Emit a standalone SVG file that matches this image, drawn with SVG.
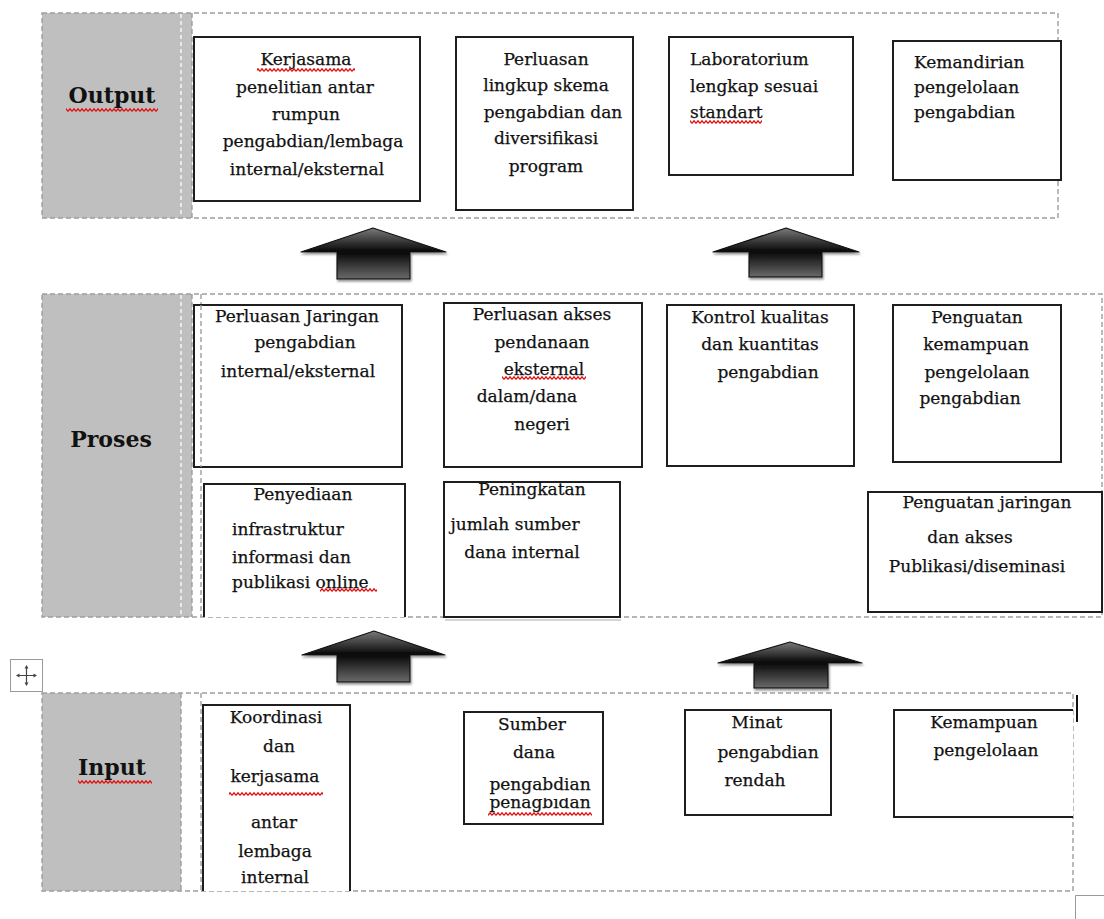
<svg xmlns="http://www.w3.org/2000/svg" width="1104" height="919" viewBox="0 0 1104 919">
<defs>
<style>
.box{fill:#fff;stroke:#1e1e1e;stroke-width:2}
.open{fill:#fff;stroke:#1e1e1e;stroke-width:2}
.dash{fill:none;stroke:#9e9e9e;stroke-width:1.4;stroke-dasharray:5 3}
.wdash{fill:none;stroke:#fff;stroke-width:1.3;stroke-dasharray:4 3}
.gray{fill:#bfbfbf}
.t{font-family:"DejaVu Serif","Liberation Serif",serif;font-size:17px;fill:#111;stroke:#111;stroke-width:0.25}
.c{text-anchor:middle}
.lbl{font-family:"DejaVu Serif","Liberation Serif",serif;font-weight:bold;font-size:22px;text-anchor:middle;fill:#111}
.sq{fill:url(#squiggle)}
.head{fill:url(#headGrad);stroke:#111;stroke-width:1.2;stroke-linejoin:round}
.shaft{fill:url(#shaftGrad);stroke:#111;stroke-width:1.2}
</style>
<pattern id="squiggle" x="0" y="0" width="4" height="4" patternUnits="userSpaceOnUse">
<path d="M0,3.4 L2,0.8 L4,3.4" fill="none" stroke="#e01010" stroke-width="1.3"/>
</pattern>
<linearGradient id="headGrad" x1="0" y1="0" x2="0" y2="1">
<stop offset="0" stop-color="#7a7a7a"/>
<stop offset="1" stop-color="#050505"/>
</linearGradient>
<linearGradient id="shaftGrad" x1="0" y1="0" x2="0" y2="1">
<stop offset="0" stop-color="#080808"/>
<stop offset="1" stop-color="#6a6a6a"/>
</linearGradient>
<filter id="shadow" x="-10%" y="-10%" width="130%" height="140%">
<feDropShadow dx="1" dy="2" stdDeviation="1" flood-color="#777" flood-opacity="0.8"/>
</filter>
<clipPath id="clipPen"><rect x="460" y="798" width="150" height="30"/></clipPath>
</defs>

<g id="frames">
<rect class="gray" x="42" y="13" width="150" height="205"/>
<line class="wdash" x1="181" y1="14" x2="181" y2="217"/>
<rect class="dash" x="42" y="13" width="1016" height="205"/>
<line class="dash" x1="192" y1="13" x2="192" y2="218"/>
<rect class="gray" x="42" y="294" width="150" height="323"/>
<line class="wdash" x1="181" y1="295" x2="181" y2="616"/>
<rect class="dash" x="42" y="294" width="1060" height="323"/>
<line class="dash" x1="192" y1="294" x2="192" y2="617"/>
<line class="dash" x1="201" y1="294" x2="201" y2="617"/>
<rect class="gray" x="42" y="693" width="139" height="198"/>
<rect class="dash" x="42" y="693" width="1031" height="198"/>
<line class="dash" x1="181" y1="693" x2="181" y2="891"/>
<line class="dash" x1="201" y1="693" x2="201" y2="891"/>
</g>

<g id="label-output">
<text class="lbl" x="112" y="103">Output</text>
<rect class="sq" x="66" y="108" width="92" height="4"/>
</g>
<g id="label-proses">
<text class="lbl" x="111" y="447">Proses</text>
</g>
<g id="label-input">
<text class="lbl" x="112" y="775">Input</text>
<rect class="sq" x="78" y="780" width="74" height="4"/>
</g>

<g id="out-1">
<rect class="box" x="194" y="37" width="226" height="164"/>
<text class="t c" x="306" y="65">Kerjasama</text>
<rect class="sq" x="257" y="68" width="98" height="4"/>
<text class="t c" x="305" y="93">penelitian antar</text>
<text class="t c" x="306" y="120">rumpun</text>
<text class="t c" x="313" y="147">pengabdian/lembaga</text>
<text class="t c" x="307" y="175">internal/eksternal</text>
</g>
<g id="out-2">
<rect class="box" x="456" y="37" width="177" height="173"/>
<text class="t c" x="546" y="65">Perluasan</text>
<text class="t c" x="546" y="91">lingkup skema</text>
<text class="t c" x="553" y="118">pengabdian dan</text>
<text class="t c" x="546" y="144">diversifikasi</text>
<text class="t c" x="546" y="172">program</text>
</g>
<g id="out-3">
<rect class="box" x="669" y="37" width="184" height="138"/>
<text class="t" x="690" y="65">Laboratorium</text>
<text class="t" x="690" y="92">lengkap sesuai</text>
<text class="t" x="690" y="118">standart</text>
<rect class="sq" x="690" y="120" width="72" height="4"/>
</g>
<g id="out-4">
<rect class="box" x="893" y="41" width="168" height="139"/>
<text class="t" x="914" y="68">Kemandirian</text>
<text class="t" x="914" y="93">pengelolaan</text>
<text class="t" x="914" y="118">pengabdian</text>
</g>

<g id="pro-1">
<rect class="box" x="194" y="305" width="208" height="162"/>
<line class="dash" x1="201" y1="305" x2="201" y2="467"/>
<text class="t c" x="297" y="322">Perluasan Jaringan</text>
<text class="t c" x="305" y="348">pengabdian</text>
<text class="t c" x="298" y="377">internal/eksternal</text>
</g>
<g id="pro-2">
<rect class="box" x="444" y="303" width="198" height="164"/>
<text class="t c" x="542" y="320">Perluasan akses</text>
<text class="t c" x="542" y="348">pendanaan</text>
<text class="t c" x="544" y="375">eksternal</text>
<rect class="sq" x="502" y="376" width="84" height="4"/>
<text class="t c" x="527" y="402">dalam/dana</text>
<text class="t c" x="542" y="430">negeri</text>
</g>
<g id="pro-3">
<rect class="box" x="667" y="305" width="187" height="161"/>
<text class="t c" x="760" y="323">Kontrol kualitas</text>
<text class="t c" x="760" y="350">dan kuantitas</text>
<text class="t c" x="768" y="378">pengabdian</text>
</g>
<g id="pro-4">
<rect class="box" x="893" y="305" width="168" height="157"/>
<text class="t c" x="977" y="323">Penguatan</text>
<text class="t c" x="976" y="350">kemampuan</text>
<text class="t c" x="977" y="378">pengelolaan</text>
<text class="t c" x="970" y="404">pengabdian</text>
</g>
<g id="pro-5">
<path class="open" d="M204,617 V484 H405 V617"/>
<text class="t c" x="303" y="500">Penyediaan</text>
<text class="t" x="232" y="535">infrastruktur</text>
<text class="t" x="232" y="563">informasi dan</text>
<text class="t" x="232" y="588">publikasi online</text>
<rect class="sq" x="320" y="588" width="57" height="4"/>
</g>
<g id="pro-6">
<rect class="box" x="444" y="482" width="176" height="135"/>
<line x1="445" y1="620" x2="621" y2="620" stroke="#aaa" stroke-width="1"/>
<text class="t c" x="532" y="495">Peningkatan</text>
<text class="t c" x="515" y="530">jumlah sumber</text>
<text class="t c" x="522" y="558">dana internal</text>
</g>
<g id="pro-7">
<rect class="box" x="868" y="492" width="234" height="120"/>
<text class="t c" x="987" y="508">Penguatan jaringan</text>
<text class="t c" x="970" y="543">dan akses</text>
<text class="t c" x="977" y="572">Publikasi/diseminasi</text>
</g>

<g id="in-1">
<path class="open" d="M203,891 V705 H350 V891"/>
<text class="t c" x="276" y="723">Koordinasi</text>
<text class="t c" x="279" y="752">dan</text>
<text class="t c" x="275" y="782">kerjasama</text>
<rect class="sq" x="229" y="792" width="94" height="4"/>
<text class="t c" x="274" y="828">antar</text>
<text class="t c" x="275" y="857">lembaga</text>
<text class="t c" x="275" y="883">internal</text>
</g>
<g id="in-2">
<rect class="box" x="464" y="712" width="139" height="112"/>
<text class="t c" x="532" y="730">Sumber</text>
<text class="t c" x="534" y="758">dana</text>
<text class="t c" x="540" y="790">pengabdian</text>
<text class="t c" x="540" y="808" clip-path="url(#clipPen)">penagbidan</text>
<rect class="sq" x="488" y="812" width="104" height="4"/>
</g>
<g id="in-3">
<rect class="box" x="685" y="710" width="146" height="105"/>
<text class="t c" x="757" y="728">Minat</text>
<text class="t c" x="768" y="758">pengabdian</text>
<text class="t c" x="755" y="786">rendah</text>
</g>
<g id="in-4">
<path class="open" d="M1073,710 H894 V817 H1073"/>
<text class="t c" x="984" y="728">Kemampuan</text>
<text class="t c" x="986" y="756">pengelolaan</text>
</g>

<g id="connectors" filter="url(#shadow)">
<rect class="shaft" x="337" y="252" width="73" height="27"/>
<polygon class="head" points="301,252 373,228 446,252"/>
<rect class="shaft" x="749" y="252" width="73" height="25"/>
<polygon class="head" points="713,252 786,228 859,252"/>
<rect class="shaft" x="337" y="655" width="73" height="27"/>
<polygon class="head" points="302,655 374,631 445,655"/>
<rect class="shaft" x="754" y="663" width="74" height="25"/>
<polygon class="head" points="718,663 790,642 862,663"/>
</g>

<g id="ui-marks">
<rect x="10.5" y="659.5" width="32" height="32" fill="#fff" stroke="#999" stroke-width="1"/>
<path d="M18,675.5 H35 M26.5,667 V684" stroke="#444" stroke-width="1.2" fill="none"/>
<path d="M26.5,665 L24.5,668.5 H28.5 Z M26.5,686 L24.5,682.5 H28.5 Z M16,675.5 L19.5,673.5 V677.5 Z M37,675.5 L33.5,673.5 V677.5 Z" fill="#444"/>
<line x1="1077" y1="695" x2="1077" y2="722" stroke="#111" stroke-width="2"/>
<path d="M1075.5,919 V895.5 H1104" fill="none" stroke="#999" stroke-width="1"/>
</g>
</svg>
